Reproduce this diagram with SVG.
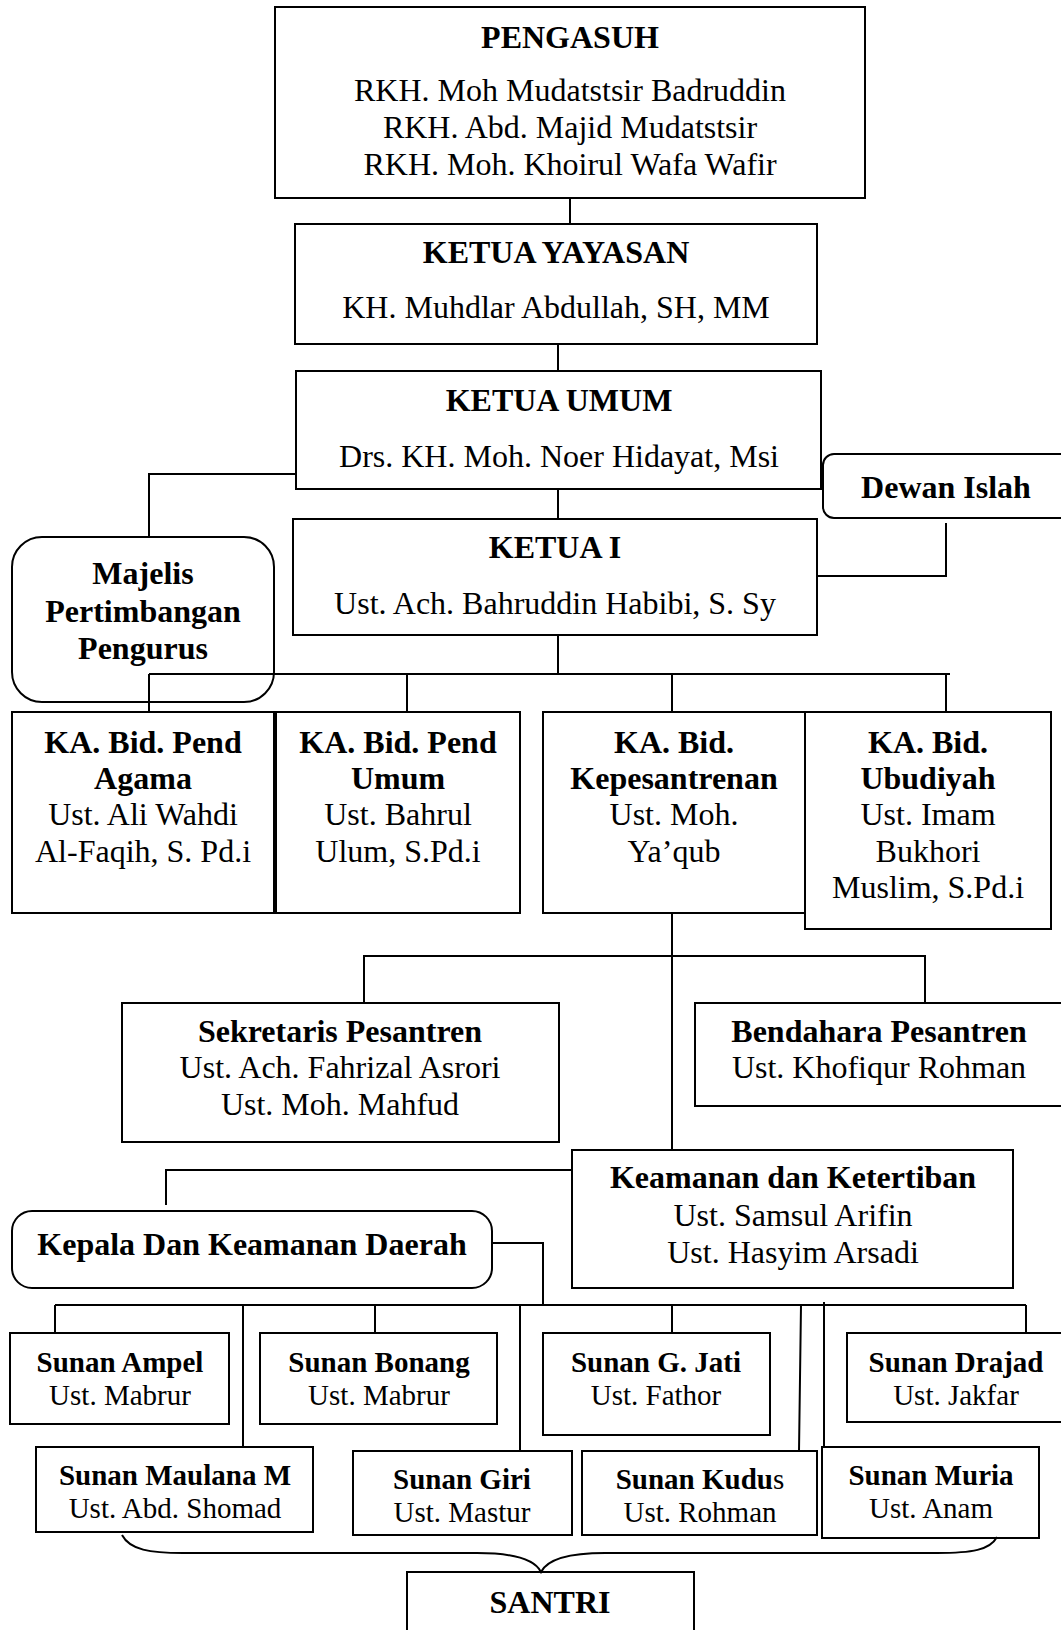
<svg xmlns="http://www.w3.org/2000/svg" width="1061" height="1630" viewBox="0 0 1061 1630">
<style>
.box{fill:#fff;stroke:#000;stroke-width:2}
.c{fill:none;stroke:#000;stroke-width:2}
text{font-family:"Liberation Serif","Times New Roman",serif;font-size:32px;text-anchor:middle;fill:#000}
.b{font-weight:bold}
.s{font-size:29px}
</style>
<rect width="1061" height="1630" fill="#fff"/>
<g id="pengasuh"><rect class="box" x="275" y="7" width="590" height="191"/>
<text class="b" x="570" y="48">PENGASUH</text>
<text x="570" y="101">RKH. Moh Mudatstsir Badruddin</text>
<text x="570" y="138">RKH. Abd. Majid Mudatstsir</text>
<text x="570" y="175">RKH. Moh. Khoirul Wafa Wafir</text></g>
<g id="ketua-yayasan"><rect class="box" x="295" y="224" width="522" height="120"/>
<text class="b" x="556" y="263">KETUA YAYASAN</text>
<text x="556" y="318">KH. Muhdlar Abdullah, SH, MM</text></g>
<g id="ketua-umum"><rect class="box" x="296" y="371" width="525" height="118"/>
<text class="b" x="559" y="411">KETUA UMUM</text>
<text x="559" y="467">Drs. KH. Moh. Noer Hidayat, Msi</text></g>
<g id="dewan-islah"><rect class="box" x="823" y="454" width="260" height="64" rx="11"/>
<text class="b" x="946" y="498">Dewan Islah</text></g>
<g id="ketua-1"><rect class="box" x="293" y="519" width="524" height="116"/>
<text class="b" x="555" y="558">KETUA I</text>
<text x="555" y="614">Ust. Ach. Bahruddin Habibi, S. Sy</text></g>
<g id="majelis"><rect class="box" x="12" y="537" width="262" height="165" rx="30"/>
<text class="b" x="143" y="584">Majelis</text>
<text class="b" x="143" y="622">Pertimbangan</text>
<text class="b" x="143" y="659">Pengurus</text></g>
<g id="ka-agama"><rect class="box" x="12" y="712" width="262" height="201"/>
<text class="b" x="143" y="753">KA. Bid. Pend</text>
<text class="b" x="143" y="789">Agama</text>
<text x="143" y="825">Ust. Ali Wahdi</text>
<text x="143" y="862">Al-Faqih, S. Pd.i</text></g>
<g id="ka-umum"><rect class="box" x="276" y="712" width="244" height="201"/>
<text class="b" x="398" y="753">KA. Bid. Pend</text>
<text class="b" x="398" y="789">Umum</text>
<text x="398" y="825">Ust. Bahrul</text>
<text x="398" y="862">Ulum, S.Pd.i</text></g>
<g id="ka-kepesantrenan"><rect class="box" x="543" y="712" width="262" height="201"/>
<text class="b" x="674" y="753">KA. Bid.</text>
<text class="b" x="674" y="789">Kepesantrenan</text>
<text x="674" y="825">Ust. Moh.</text>
<text x="674" y="862">Ya’qub</text></g>
<g id="ka-ubudiyah"><rect class="box" x="805" y="712" width="246" height="217"/>
<text class="b" x="928" y="753">KA. Bid.</text>
<text class="b" x="928" y="789">Ubudiyah</text>
<text x="928" y="825">Ust. Imam</text>
<text x="928" y="862">Bukhori</text>
<text x="928" y="898">Muslim, S.Pd.i</text></g>
<g id="sekretaris"><rect class="box" x="122" y="1003" width="437" height="139"/>
<text class="b" x="340" y="1042">Sekretaris Pesantren</text>
<text x="340" y="1078">Ust. Ach. Fahrizal Asrori</text>
<text x="340" y="1115">Ust. Moh. Mahfud</text></g>
<g id="bendahara"><rect class="box" x="695" y="1003" width="380" height="103"/>
<text class="b" x="879" y="1042">Bendahara Pesantren</text>
<text x="879" y="1078">Ust. Khofiqur Rohman</text></g>
<g id="keamanan"><rect class="box" x="572" y="1150" width="441" height="138"/>
<text class="b" x="793" y="1188">Keamanan dan Ketertiban</text>
<text x="793" y="1226">Ust. Samsul Arifin</text>
<text x="793" y="1263">Ust. Hasyim Arsadi</text></g>
<g id="kepala-daerah"><rect class="box" x="12" y="1211" width="480" height="77" rx="20"/>
<text class="b" x="252" y="1255">Kepala Dan Keamanan Daerah</text></g>
<g id="sunan-ampel"><rect class="box" x="10" y="1333" width="219" height="91"/>
<text class="b s" x="120" y="1372">Sunan Ampel</text>
<text class="s" x="120" y="1405">Ust. Mabrur</text></g>
<g id="sunan-bonang"><rect class="box" x="260" y="1333" width="237" height="91"/>
<text class="b s" x="379" y="1372">Sunan Bonang</text>
<text class="s" x="379" y="1405">Ust. Mabrur</text></g>
<g id="sunan-gjati"><rect class="box" x="543" y="1333" width="227" height="102"/>
<text class="b s" x="656" y="1372">Sunan G. Jati</text>
<text class="s" x="656" y="1405">Ust. Fathor</text></g>
<g id="sunan-drajad"><rect class="box" x="847" y="1333" width="230" height="89"/>
<text class="b s" x="956" y="1372">Sunan Drajad</text>
<text class="s" x="956" y="1405">Ust. Jakfar</text></g>
<g id="sunan-maulana"><rect class="box" x="36" y="1447" width="277" height="85"/>
<text class="b s" x="175" y="1485">Sunan Maulana M</text>
<text class="s" x="175" y="1518">Ust. Abd. Shomad</text></g>
<g id="sunan-giri"><rect class="box" x="353" y="1451" width="219" height="84"/>
<text class="b s" x="462" y="1489">Sunan Giri</text>
<text class="s" x="462" y="1522">Ust. Mastur</text></g>
<g id="sunan-kudus"><rect class="box" x="582" y="1451" width="235" height="84"/>
<text class="b s" x="700" y="1489">Sunan Kudu<tspan font-weight="normal">s</tspan></text>
<text class="s" x="700" y="1522">Ust. Rohman</text></g>
<g id="sunan-muria"><rect class="box" x="822" y="1447" width="217" height="91"/>
<text class="b s" x="931" y="1485">Sunan Muria</text>
<text class="s" x="931" y="1518">Ust. Anam</text></g>
<g id="santri"><rect class="box" x="407" y="1572" width="287" height="80"/>
<text class="b" x="550" y="1613">SANTRI</text></g>
<g id="connectors">
<path class="c" d="M570,198 V224"/>
<path class="c" d="M558,344 V371"/>
<path class="c" d="M558,489 V519"/>
<path class="c" d="M296,474 H149 V537"/>
<path class="c" d="M946,523 V576 H817"/>
<path class="c" d="M558,635 V674"/>
<path class="c" d="M149,674 H950"/>
<path class="c" d="M149,674 V712 M407,674 V712 M672,674 V712 M946,674 V712"/>
<path class="c" d="M672,913 V1150"/>
<path class="c" d="M364,1003 V956 H925 V1003"/>
<path class="c" d="M572,1170 H166 V1205"/>
<path class="c" d="M492,1243 H543 V1305"/>
<path class="c" d="M55,1305 H1026"/>
<path class="c" d="M55,1305 V1333 M375,1305 V1333 M672,1305 V1333 M1026,1305 V1333"/>
<path class="c" d="M243,1305 V1447 M520,1305 V1451 M801,1305 L799,1451 M824,1302 V1447"/>
<path class="c" d="M122,1535 C130,1550 150,1553 183,1553 L477,1553 C515,1553 535,1560 541,1572 C547,1560 567,1553 605,1553 L937,1553 C972,1553 990,1550 997,1537"/>
</g>
</svg>
